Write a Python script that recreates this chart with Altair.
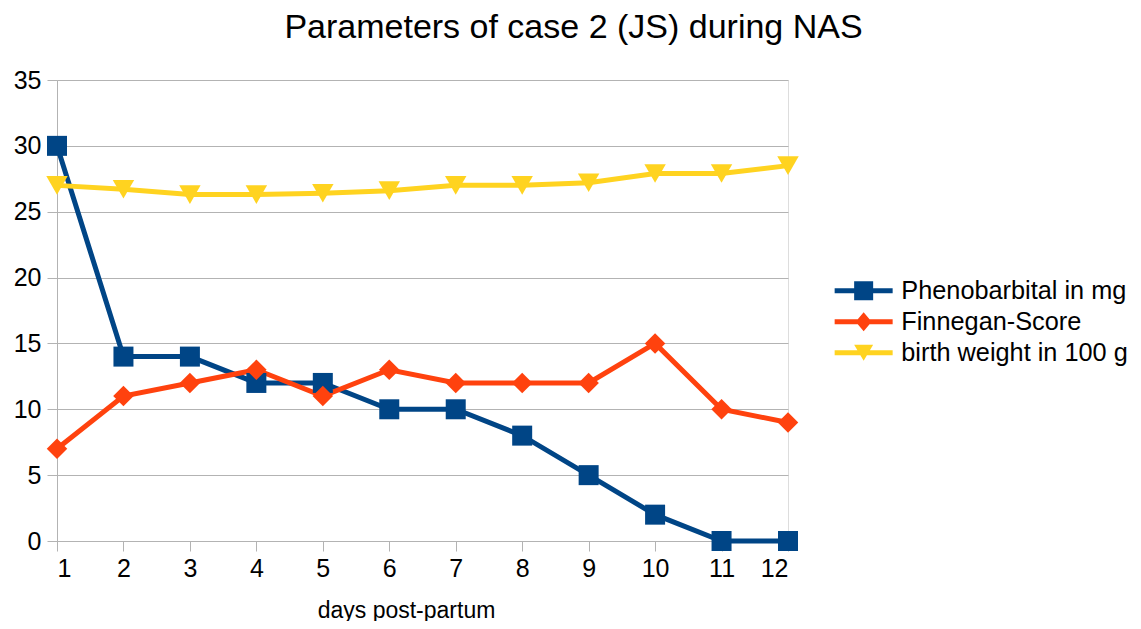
import altair as alt
import pandas as pd

days = list(range(1, 13))
pheno = [30, 14, 14, 12, 12, 10, 10, 8, 5, 2, 0, 0]
finnegan = [7, 11, 12, 13, 11, 13, 12, 12, 12, 15, 10, 9]
weight = [27.0, 26.7, 26.3, 26.3, 26.4, 26.6, 27.0, 27.0, 27.2, 27.9, 27.9, 28.5]
series_names = ["Phenobarbital in mg", "Finnegan-Score", "birth weight in 100 g"]
colors = ["#004586", "#ff420e", "#ffd320"]
shapes = ["square", "diamond", "triangle-down"]
marker_sizes = [400, 420, 460]

legend_paths = [
    "M-2.9,-0.25H2.9V0.25H-2.9Z M-0.95,-0.95H0.95V0.95H-0.95Z",
    "M-2.9,-0.25H2.9V0.25H-2.9Z M0,-0.95L0.8,0L0,0.95L-0.8,0Z",
    "M-2.9,-0.25H2.9V0.25H-2.9Z M-0.95,-0.8H0.95L0,0.8Z",
]

rows = []
for name, vals in zip(series_names, [pheno, finnegan, weight]):
    for d, v in zip(days, vals):
        rows.append({"day": d, "value": v, "series": name})
df = pd.DataFrame(rows)

FONT = "Liberation Sans"
color_scale = alt.Scale(domain=series_names, range=colors)

leg = alt.Legend(title=None, orient="none", legendX=794, legendY=198,
                 labelFontSize=25.3, labelFont=FONT, labelColor="black",
                 symbolSize=400, symbolStrokeWidth=0, labelOffset=25,
                 symbolOpacity=1, rowPadding=5, labelLimit=500)

x = alt.X("day:Q", scale=alt.Scale(domain=[1, 12], nice=False),
          axis=alt.Axis(values=days, title="days post-partum", grid=False,
                        tickSize=10, tickColor="#b3b3b3", domainColor="#b3b3b3",
                        labelFontSize=25, labelFont=FONT, labelColor="black",
                        labelPadding=5, titleFontSize=23, titleFont=FONT,
                        titleFontWeight="normal", titleColor="black",
                        titlePadding=18, titleX=349))
y = alt.Y("value:Q", scale=alt.Scale(domain=[0, 35], nice=False),
          axis=alt.Axis(values=list(range(0, 36, 5)), title=None,
                        tickSize=10, tickColor="#b3b3b3", domainColor="#b3b3b3",
                        gridColor="#b3b3b3", labelFontSize=25, labelFont=FONT,
                        labelColor="black", labelPadding=6))

base = alt.Chart(df)
color = alt.Color("series:N", scale=color_scale, legend=leg)

layers = [base.mark_line(strokeWidth=5).encode(x=x, y=y, color=color)]

for name, shp, sz in zip(series_names, shapes, marker_sizes):
    layers.append(
        base.transform_filter(alt.datum.series == name)
        .mark_point(filled=True, opacity=1, shape=shp, size=sz)
        .encode(x=x, y=y, color=color)
    )

layers.append(
    base.mark_point(filled=True, opacity=1, size=0).encode(
        x=x, y=y, color=color,
        shape=alt.Shape("series:N", scale=alt.Scale(domain=series_names, range=legend_paths),
                        legend=leg),
    )
)

chart = alt.layer(*layers).properties(
    width=731, height=461,
    padding={"left": 49, "top": 72, "right": 345, "bottom": 80},
    autosize=alt.AutoSizeParams(type="none"),
    title=alt.TitleParams("Parameters of case 2 (JS) during NAS", fontSize=34, font=FONT,
                          fontWeight="normal", color="black", anchor="middle", dx=151,
                          offset=23),
).configure_view(stroke="#b3b3b3").configure(background="white")

chart.save("out.html", embed_options={"renderer": "svg", "actions": False})
